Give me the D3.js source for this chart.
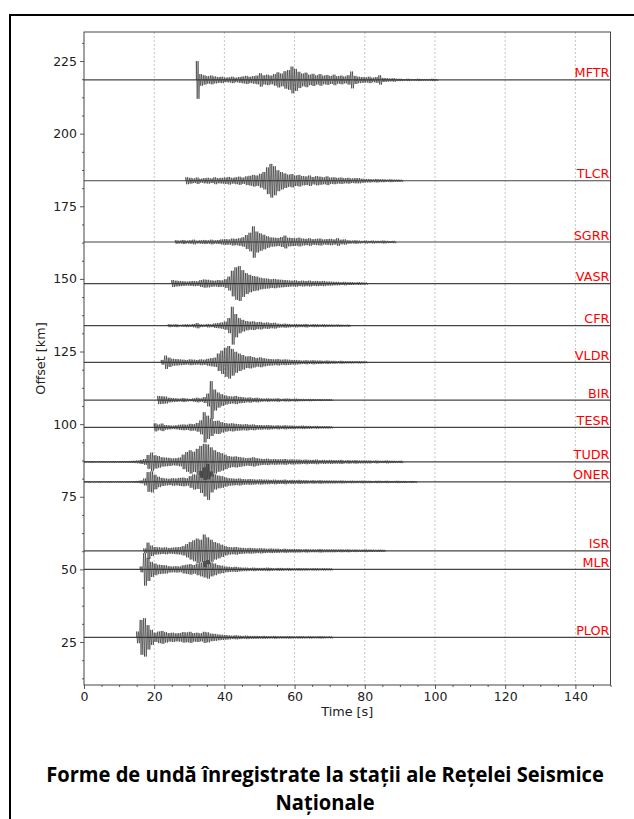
<!DOCTYPE html>
<html>
<head>
<meta charset="utf-8">
<script src="https://cdn.jsdelivr.net/npm/d3@7"></script>
<style>
  body { margin: 0; background: #fff; }
  text { font-family: "DejaVu Sans", sans-serif; }
</style>
</head>
<body>
<svg id="chart" width="634" height="819"></svg>
<script>
// stations, top to bottom, and their epicentral offset in km
const stations = ['MFTR', 'TLCR', 'SGRR', 'VASR', 'CFR', 'VLDR', 'BIR', 'TESR', 'TUDR', 'ONER', 'ISR', 'MLR', 'PLOR'];
const offsets = [218.5, 183.8, 162.7, 148.4, 133.9, 121.3, 108.3, 98.9, 87.0, 80.1, 56.4, 50.0, 26.6];
// second at which each amplitude list starts
const onsets = [32, 29, 26, 25, 24, 22, 21, 20, 0, 0, 17, 16, 15];

// envelope amplitude (km on the offset axis), one value per second
const ampMFTR = [6.5, 2.0, 1.6, 1.3, 1.5, 1.2, 1.0, 1.1, 0.8, 0.9,
  1.1, 0.8, 1.0, 1.2, 1.4, 1.1, 1.3, 1.5, 2.3, 1.6,
  1.8, 1.5, 2.0, 2.6, 2.2, 3.0, 3.4, 4.6, 3.8, 2.8,
  2.2, 2.5, 1.8, 2.1, 1.6, 2.0, 1.5, 1.7, 1.4, 1.8,
  1.3, 1.5, 1.2, 1.6, 2.9, 1.4, 1.1, 1.0, 0.9, 1.1,
  0.8, 1.0, 1.6, 0.7, 0.6, 0.5, 0.6, 0.4, 0.4, 0.3,
  0.4, 0.3, 0.3, 0.4, 0.3, 0.3, 0.3, 0.4, 0.3];
const ampTLCR = [1.2, 1.0, 0.8, 1.1, 0.7, 0.9, 1.0, 0.8, 1.2, 0.9,
  1.0, 1.1, 1.3, 1.0, 1.2, 1.4, 1.1, 1.5, 1.7, 2.0,
  1.8, 2.4, 3.0, 4.6, 5.8, 5.0, 3.6, 3.0, 2.5, 2.1,
  2.3, 1.8, 2.0, 1.6, 1.5, 1.8, 1.3, 1.6, 1.4, 1.2,
  1.5, 1.1, 1.2, 1.0, 1.1, 0.9, 1.0, 0.8, 0.9, 0.9,
  0.7, 0.6, 0.6, 0.5, 0.6, 0.5, 0.5, 0.4, 0.5, 0.4,
  0.4, 0.35];
const ampSGRR = [0.6, 0.5, 0.7, 0.5, 0.6, 0.8, 0.5, 0.6, 0.7, 0.6,
  0.8, 0.6, 0.7, 0.9, 1.0, 0.9, 1.2, 1.1, 1.3, 1.6,
  2.4, 3.2, 5.4, 3.6, 3.0, 2.5, 2.0, 1.6, 1.5, 1.4,
  1.7, 2.2, 1.5, 1.4, 1.3, 1.5, 1.2, 1.1, 1.3, 1.0,
  1.1, 1.2, 0.9, 1.0, 1.1, 0.9, 1.3, 0.8, 0.9, 0.6,
  0.5, 0.6, 0.5, 0.4, 0.5, 0.4, 0.5, 0.4, 0.4, 0.5,
  0.4, 0.35, 0.4];
const ampVASR = [1.2, 1.0, 0.9, 0.8, 0.7, 0.8, 0.9, 0.8, 1.2, 1.4,
  1.3, 1.1, 1.0, 1.2, 1.1, 1.5, 2.4, 4.4, 5.6, 6.0,
  4.6, 3.6, 3.0, 2.6, 2.4, 2.0, 1.8, 1.7, 1.5, 1.6,
  1.4, 1.3, 1.2, 1.1, 1.0, 1.1, 0.9, 1.0, 0.9, 1.0,
  0.8, 0.9, 0.8, 0.9, 0.7, 0.7, 0.6, 0.6, 0.5, 0.6,
  0.5, 0.5, 0.4, 0.5, 0.4, 0.35];
const ampCFR = [0.5, 0.4, 0.5, 0.3, 0.4, 0.5, 0.4, 0.6, 0.9, 0.5,
  0.4, 0.6, 0.5, 0.8, 0.9, 1.1, 1.4, 2.6, 6.5, 4.0,
  2.6, 2.0, 1.6, 1.4, 1.5, 1.2, 1.3, 1.0, 1.1, 0.9,
  1.0, 0.7, 0.6, 0.7, 0.6, 0.5, 0.6, 0.5, 0.5, 0.6,
  0.4, 0.5, 0.5, 0.4, 0.5, 0.4, 0.4, 0.35, 0.4, 0.35,
  0.3, 0.35];
const ampVLDR = [0.8, 2.3, 1.6, 1.2, 1.1, 1.0, 0.9, 0.8, 1.0, 0.9,
  0.8, 1.0, 0.9, 1.2, 1.4, 1.6, 3.0, 4.0, 5.0, 5.6,
  4.6, 3.6, 3.0, 2.5, 2.0, 2.1, 1.8, 1.5, 1.7, 1.4,
  1.2, 1.1, 1.0, 1.1, 0.9, 1.0, 0.9, 0.8, 0.8, 0.7,
  0.6, 0.7, 0.6, 0.7, 0.6, 0.6, 0.5, 0.6, 0.5, 0.5,
  0.4, 0.5, 0.4, 0.4, 0.4, 0.35, 0.4, 0.35, 0.3];
const ampBIR = [1.4, 1.3, 1.2, 0.8, 0.7, 0.6, 0.5, 0.7, 0.5, 0.4,
  0.6, 0.8, 0.6, 1.0, 2.2, 6.5, 3.6, 2.6, 2.0, 1.6,
  1.3, 1.2, 1.4, 1.1, 1.0, 0.8, 0.9, 0.7, 0.8, 0.6,
  0.5, 0.6, 0.5, 0.5, 0.6, 0.4, 0.5, 0.5, 0.4, 0.5,
  0.4, 0.4, 0.35, 0.4, 0.35, 0.3, 0.35, 0.3, 0.3, 0.3];
const ampTESR = [1.4, 1.0, 1.3, 0.8, 0.7, 0.6, 0.7, 0.9, 1.0, 0.9,
  1.2, 1.1, 1.5, 2.4, 5.2, 4.0, 3.0, 2.2, 2.3, 1.8,
  1.5, 1.3, 1.4, 1.2, 1.1, 1.0, 1.1, 0.9, 1.0, 0.8,
  0.8, 0.7, 0.8, 0.7, 0.6, 0.7, 0.6, 0.7, 0.6, 0.6,
  0.5, 0.5, 0.6, 0.5, 0.5, 0.4, 0.5, 0.4, 0.4, 0.4, 0.35];
const ampTUDR = [0.25, 0.25, 0.3, 0.25, 0.25, 0.3, 0.25, 0.25, 0.3, 0.25,
  0.3, 0.3, 0.3, 0.35, 0.4, 0.5, 0.7, 1.0, 2.4, 3.2,
  2.3, 2.0, 1.6, 1.5, 1.4, 1.2, 1.3, 1.5, 2.5, 3.4,
  4.0, 3.5, 4.5, 5.5, 6.2, 6.0, 5.0, 4.0, 3.4, 3.0,
  2.5, 2.0, 1.8, 1.9, 1.7, 1.5, 1.3, 1.4, 1.6, 1.3,
  1.1, 1.0, 1.1, 0.9, 1.0, 0.9, 0.9, 1.0, 0.8, 0.9,
  0.8, 0.8, 0.7, 0.8, 0.7, 0.7, 0.8, 0.6, 0.7, 0.6,
  0.7, 0.6, 0.6, 0.7, 0.5, 0.6, 0.5, 0.6, 0.5, 0.5,
  0.5, 0.5, 0.4, 0.5, 0.4, 0.4, 0.5, 0.4, 0.4, 0.35, 0.4];
const ampONER = [0.2, 0.25, 0.2, 0.2, 0.25, 0.2, 0.2, 0.25, 0.2, 0.2,
  0.25, 0.2, 0.25, 0.25, 0.3, 0.35, 0.5, 1.2, 3.4, 3.6,
  2.5, 1.8, 1.4, 1.2, 1.1, 1.3, 1.2, 1.4, 1.5, 1.3,
  2.0, 2.6, 2.4, 3.8, 5.0, 6.2, 3.6, 2.6, 2.2, 2.0,
  1.6, 1.3, 1.2, 1.1, 1.2, 1.0, 0.9, 1.0, 0.9, 0.8,
  0.9, 0.8, 0.8, 0.7, 0.8, 0.7, 0.7, 0.8, 0.6, 0.7,
  0.6, 0.7, 0.6, 0.6, 0.5, 0.6, 0.5, 0.6, 0.5, 0.5,
  0.5, 0.5, 0.45, 0.5, 0.45, 0.4, 0.45, 0.4, 0.4, 0.45,
  0.4, 0.4, 0.35, 0.4, 0.4, 0.35, 0.4, 0.35, 0.35, 0.4, 0.35, 0.35, 0.3, 0.35, 0.3];
const ampISR = [0.8, 2.8, 1.8, 1.3, 1.2, 1.1, 1.2, 1.0, 1.1, 1.2,
  1.3, 1.6, 2.3, 3.0, 3.6, 4.2, 3.8, 5.6, 4.6, 3.8,
  3.0, 2.6, 2.1, 1.6, 1.3, 1.2, 1.3, 1.1, 1.0, 0.9,
  1.0, 0.9, 0.8, 0.9, 0.8, 0.7, 0.8, 0.7, 0.7, 0.6,
  0.7, 0.6, 0.6, 0.6, 0.6, 0.5, 0.6, 0.5, 0.5, 0.5,
  0.6, 0.5, 0.5, 0.5, 0.5, 0.45, 0.5, 0.45, 0.5, 0.4,
  0.45, 0.4, 0.4, 0.45, 0.4, 0.4, 0.35, 0.4, 0.35];
const ampMLR = [1.0, 5.6, 4.0, 2.6, 2.0, 1.6, 1.5, 1.4, 1.1, 1.0,
  1.1, 1.0, 1.4, 1.6, 1.8, 1.5, 2.0, 2.4, 2.8, 3.2,
  2.4, 2.0, 1.5, 1.3, 1.0, 0.9, 0.8, 0.9, 0.7, 0.6,
  0.6, 0.5, 0.6, 0.5, 0.5, 0.5, 0.6, 0.5, 0.4, 0.5,
  0.5, 0.4, 0.5, 0.4, 0.4, 0.45, 0.4, 0.4, 0.35, 0.4,
  0.4, 0.35, 0.4, 0.35, 0.35];
const ampPLOR = [2.0, 6.0, 6.6, 4.2, 2.6, 1.6, 2.0, 2.2, 1.8, 1.5,
  1.6, 1.4, 1.5, 1.8, 1.7, 1.9, 1.5, 1.6, 1.4, 1.9,
  1.7, 1.3, 1.2, 1.0, 0.9, 0.8, 0.7, 0.6, 0.7, 0.6,
  0.5, 0.6, 0.5, 0.5, 0.5, 0.45, 0.5, 0.45, 0.4, 0.5,
  0.4, 0.4, 0.4, 0.45, 0.4, 0.35, 0.4, 0.4, 0.35, 0.4,
  0.35, 0.35, 0.4, 0.35, 0.3, 0.35];

const amplitudes = [ampMFTR, ampTLCR, ampSGRR, ampVASR, ampCFR, ampVLDR, ampBIR,
  ampTESR, ampTUDR, ampONER, ampISR, ampMLR, ampPLOR];

const xTicks = [0, 20, 40, 60, 80, 100, 120, 140];
const yTicks = [25, 50, 75, 100, 125, 150, 175, 200, 225];
const titleLines = ['Forme de undă înregistrate la stații ale Rețelei Seismice', 'Naționale'];

const plotLeft = 84;
const plotRight = 610.5;
const plotTop = 32;
const plotBottom = 685;

const svg = d3.select('#chart');
svg.append('rect').attr('width', 634).attr('height', 819).attr('fill', '#fff');

// outer frame of the picture (runs off the right and bottom edge)
svg.append('rect').
attr('x', 10).attr('y', 15).
attr('width', 660).attr('height', 840).
attr('fill', 'none').attr('stroke', '#000').attr('stroke-width', 2);

const x = d3.scaleLinear().domain([0, 150]).range([plotLeft, plotRight]);
const y = d3.scaleLinear().domain([10.2, 235]).range([plotBottom, plotTop]);

svg.append('clipPath').attr('id', 'plot-clip').
append('rect').
attr('x', plotLeft).attr('y', plotTop).
attr('width', plotRight - plotLeft).attr('height', plotBottom - plotTop);

// vertical grid
svg.append('g').
selectAll('line').
data(xTicks.slice(1)).
enter().
append('line').
attr('x1', d => x(d)).attr('x2', d => x(d)).
attr('y1', plotTop).attr('y2', plotBottom).
attr('stroke', '#b8b8b8').
attr('stroke-width', 0.8).
attr('stroke-dasharray', '2,2');

const traces = svg.append('g').attr('clip-path', 'url(#plot-clip)');

const line = d3.line().
x(d => x(d[0])).
y(d => y(d[1]));

// every second of record is drawn as two full swings of its amplitude
const swings = [0, 0.25, 0.5, 0.75];

stations.forEach(function (name, i) {
  const off = offsets[i];
  // flat baseline across the whole record
  traces.append('line').
  attr('x1', x(0)).attr('x2', x(150)).
  attr('y1', y(off)).attr('y2', y(off)).
  attr('stroke', '#444').
  attr('stroke-width', 1.2);

  const pts = [[onsets[i], off]];
  amplitudes[i].forEach(function (a, k) {
    const t = onsets[i] + k;
    swings.forEach(function (s, j) {
      pts.push([t + s, j % 2 === 0 ? off + a : off - a]);
    });
  });
  pts.push([onsets[i] + amplitudes[i].length, off]);

  traces.append('path').
  attr('d', line(pts)).
  attr('fill', 'none').
  attr('stroke', '#2e2e2e').
  attr('stroke-opacity', 0.9).
  attr('stroke-width', 0.7);

  svg.append('text').
  attr('x', plotRight - 1).
  attr('y', y(off) - 2.5).
  attr('text-anchor', 'end').
  attr('fill', '#ff0000').
  style('font-size', '12.8px').
  text(name);
});

// axes
const xAxis = svg.append('g').
attr('transform', 'translate(0,' + plotBottom + ')').
call(d3.axisBottom(x).tickValues(xTicks).tickSize(4).tickSizeOuter(0).tickPadding(3));
const xMinor = svg.append('g').
attr('transform', 'translate(0,' + plotBottom + ')').
call(d3.axisBottom(x).tickValues(d3.range(0, 151, 5).filter(v => v % 20 !== 0)).tickSize(2).tickSizeOuter(0).tickFormat(''));

const yAxis = svg.append('g').
attr('transform', 'translate(' + plotLeft + ',0)').
call(d3.axisLeft(y).tickValues(yTicks).tickSize(4).tickSizeOuter(0).tickPadding(3));
const yMinor = svg.append('g').
attr('transform', 'translate(' + plotLeft + ',0)').
call(d3.axisLeft(y).tickValues(d3.range(12.5, 235, 6.25).filter(v => v % 25 !== 0)).tickSize(2).tickSizeOuter(0).tickFormat(''));

[xAxis, xMinor, yAxis, yMinor].forEach(function (g) {
  g.select('.domain').remove();
  g.selectAll('line').attr('stroke', '#333').attr('stroke-width', 0.8);
  g.selectAll('text').
  style('font-family', '"DejaVu Sans", sans-serif').
  style('font-size', '12.5px').
  attr('fill', '#222');
});

svg.append('rect').
attr('x', plotLeft).attr('y', plotTop).
attr('width', plotRight - plotLeft).attr('height', plotBottom - plotTop).
attr('fill', 'none').attr('stroke', '#333').attr('stroke-width', 0.9);

svg.append('text').
attr('x', (plotLeft + plotRight) / 2).
attr('y', 716).
attr('text-anchor', 'middle').
attr('fill', '#222').
style('font-size', '12.8px').
text('Time [s]');

svg.append('text').
attr('transform', 'translate(45,' + (plotTop + plotBottom) / 2 + ') rotate(-90)').
attr('text-anchor', 'middle').
attr('fill', '#222').
style('font-size', '12.8px').
text('Offset [km]');

// title, two lines, squeezed to the width of the original bold face
const title = svg.append('g').attr('transform', 'translate(325,0)');
titleLines.forEach(function (s, i) {
  title.append('text').
  attr('x', 0).
  attr('y', 782 + i * 28).
  attr('text-anchor', 'middle').
  attr('fill', '#000').
  style('font-family', '"Open Sans", sans-serif').
  style('font-weight', 'bold').
  style('font-size', '21px').
  text(s);
});
const w = title.select('text').node().getComputedTextLength();
if (w > 0) {
  title.attr('transform', 'translate(325,0) scale(' + 558 / w + ',1)');
}
</script>
</body>
</html>
